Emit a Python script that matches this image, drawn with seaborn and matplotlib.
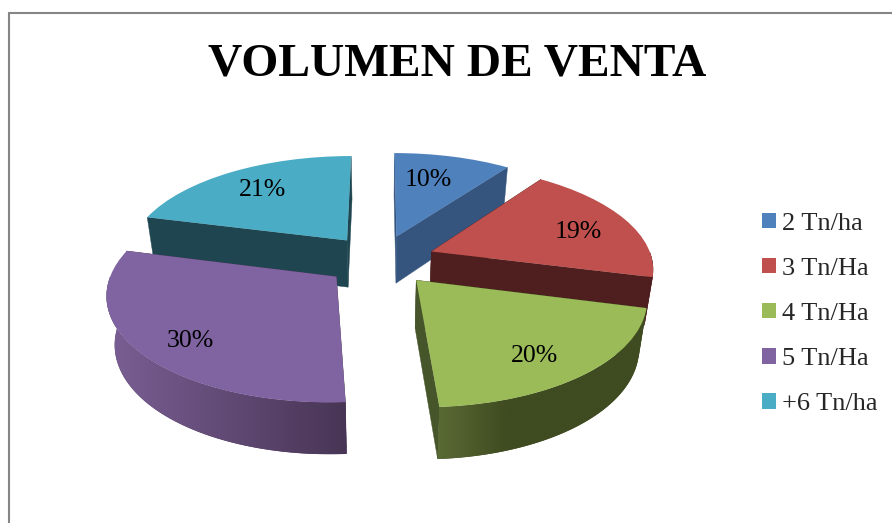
import matplotlib
matplotlib.use('Agg')
import matplotlib.pyplot as plt
from matplotlib.lines import Line2D
from matplotlib.patches import Polygon
from matplotlib.transforms import Transform
from matplotlib.colors import to_rgb
import numpy as np
import seaborn as sns

# Data
categories = ['2 Tn/ha', '3 Tn/Ha', '4 Tn/Ha', '5 Tn/Ha', '+6 Tn/ha']
shares = [10, 19, 20, 30, 21]
title = 'VOLUMEN DE VENTA'

# Colours
top_colors = ['#4f81bd', '#c0504d', '#9bbb59', '#8064a2', '#4bacc6']
cut_colors = ['#35557f', '#4e1f1e', '#47552a', '#4a3558', '#1f4650']
rim_left = ['#35557f', '#4e1f1e', '#5a6a34', '#7b5f95', '#1f4650']
rim_right = ['#35557f', '#4e1f1e', '#3f4b20', '#483555', '#1f4650']
rim_speed = [1, 1, 3, 1, 1]

# Layout, in reference pixels
W, H = 892, 523
cx, cy = 380, 260
rx, ry = 221, 102
persp = 0.146
explode = 0.25
bottom_shrink = 0.97
label_reach = [0.70, 0.73, 0.77, 0.79, 0.73]
label_nudge = [(-9, 1), (4, 4), (-8, 5), (6, 6), (2, 1)]
draw_order = [4, 0, 1, 3, 2]


def tilt(x, y):
    # flat pie coordinates to picture pixels, far side shrinks
    den = 1 + persp * np.asarray(y)
    return cx + rx * np.asarray(x) / den, cy - ry * np.asarray(y) / den


def depth(y):
    return 47.5 * (1 - 0.08 * np.asarray(y))


def lower(px):
    # the underside of the pie is a little narrower than the top
    return cx + (np.asarray(px) - cx) * bottom_shrink


class Tilt(Transform):
    input_dims = 2
    output_dims = 2
    is_separable = False

    def transform_non_affine(self, values):
        px, py = tilt(values[:, 0], values[:, 1])
        return np.column_stack([px, py])


sns.set_theme(style='white')
plt.rcParams['font.family'] = ['Liberation Serif', 'DejaVu Serif']

fig = plt.figure(figsize=(W / 100, H / 100), dpi=100, facecolor='white')
ax = fig.add_axes([0, 0, 1, 1])

wedges, texts, pcts = ax.pie(shares, explode=[explode] * len(shares), colors=top_colors,
                             startangle=90, counterclock=False, radius=1,
                             autopct='%d%%', pctdistance=1,
                             textprops={'fontsize': 18.5, 'color': 'black'})

ax.set_aspect('auto')
ax.set_frame_on(False)


def mix(a, b, t):
    return (1 - t) * np.array(to_rgb(a)) + t * np.array(to_rgb(b))


# Extruded sides of each slice, back slices first
for rank, i in enumerate(draw_order):
    w = wedges[i]
    z = 2 + rank
    x0, y0 = w.center
    t1, t2 = np.deg2rad(w.theta1), np.deg2rad(w.theta2)

    # the two straight cuts
    for t in (t1, t2):
        px, py = tilt([x0, x0 + np.cos(t)], [y0, y0 + np.sin(t)])
        dp = depth([y0, y0 + np.sin(t)])
        low = lower(px)
        ax.fill([px[0], px[1], low[1], low[0]],
                [py[0], py[1], py[1] + dp[1], py[0] + dp[0]],
                color=cut_colors[i], lw=0.3, zorder=z)

    # the curved rim, only the part that faces the viewer
    angles = np.linspace(t1, t2, 200)
    angles = angles[np.sin(angles) < 0]
    if len(angles) > 1:
        fx, fy = x0 + np.cos(angles), y0 + np.sin(angles)
        px, py = tilt(fx, fy)
        verts = np.column_stack([np.r_[px, lower(px)[::-1]],
                                 np.r_[py, (py + depth(fy))[::-1]]])
        edge = Polygon(verts, closed=True, fc=rim_right[i], lw=0, zorder=z + 0.1)
        ax.add_patch(edge)
        steps = np.clip(np.linspace(0, 1, 256) * rim_speed[i], 0, 1)
        grad = np.array([[mix(rim_left[i], rim_right[i], s) for s in steps]])
        im = ax.imshow(grad, extent=[verts[:, 0].min(), verts[:, 0].max(),
                                     verts[:, 1].max(), verts[:, 1].min()],
                       aspect='auto', interpolation='bilinear', zorder=z + 0.2)
        im.set_clip_path(edge)

    w.set_transform(Tilt() + ax.transData)
    w.set_linewidth(0)
    w.set_zorder(z + 0.5)

ax.set_xlim(0, W)
ax.set_ylim(H, 0)

# Percent labels sit at their own distance along each slice
for i, p in enumerate(pcts):
    x, y = p.get_position()
    s = (explode + label_reach[i]) / (explode + 1)
    lx, ly = tilt(x * s, y * s)
    p.set_position((lx + label_nudge[i][0], ly + label_nudge[i][1]))
    p.set_zorder(20)

leg = ax.legend(wedges, categories, loc='center left', frameon=False,
                bbox_to_anchor=(762 / W, 1 - 314 / H), bbox_transform=fig.transFigure,
                fontsize=19, borderpad=0, borderaxespad=0,
                handlelength=0.53, handleheight=0.53, handletextpad=0.22,
                labelspacing=0.87)

fig.text(457 / W, 1 - 65 / H, title, ha='center', va='center',
         fontsize=34.2, fontweight='bold', color='black')

# Chart border is only visible on the left and top
fig.add_artist(Line2D([9 / W, 9 / W], [0, 1 - 13 / H], color='#868686', lw=1.5))
fig.add_artist(Line2D([9 / W, 1], [1 - 13 / H, 1 - 13 / H], color='#868686', lw=1.5))

fig.savefig('out.png', dpi=100)
